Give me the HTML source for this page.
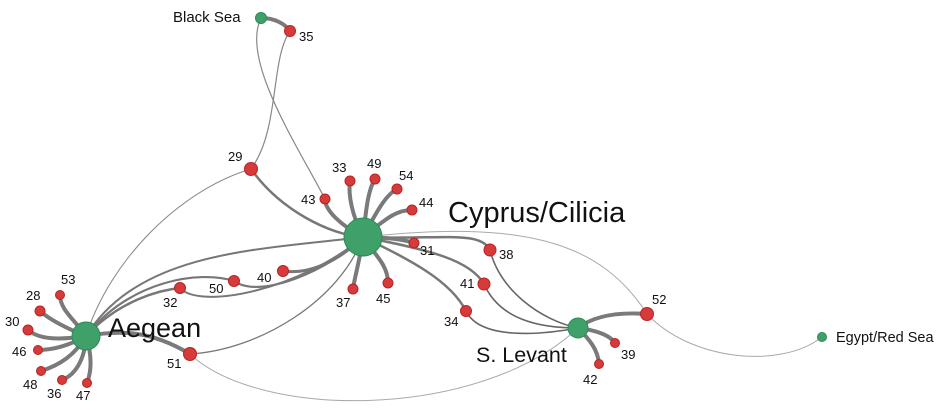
<!DOCTYPE html>
<html><head><meta charset="utf-8"><style>
html,body{margin:0;padding:0;background:#fff;}
svg{display:block;font-family:"Liberation Sans",sans-serif;}
</style></head><body>
<svg width="939" height="411" viewBox="0 0 939 411">
<g fill="none" stroke-linecap="round">
<path d="M363,237 C520,220 600,240 647,314" stroke="#aaa" stroke-width="1"/>
<path d="M647,314 C690,360 780,370 822,337" stroke="#aaa" stroke-width="1"/>
<path d="M190,354 C260,420 480,420 578,328" stroke="#aaa" stroke-width="1"/>
<path d="M261,18 C240,60 300,150 325,199" stroke="#888" stroke-width="1.2"/>
<path d="M290,31 C270,60 280,130 251,169" stroke="#888" stroke-width="1.2"/>
<path d="M251,169 C180,190 110,260 86,336" stroke="#888" stroke-width="1"/>
<path d="M190,354 C260,350 340,300 363,237" stroke="#777" stroke-width="1.3"/>
<path d="M490,250 C500,290 540,320 578,328" stroke="#666" stroke-width="1.6"/>
<path d="M484,284 C500,320 540,328 578,328" stroke="#666" stroke-width="1.6"/>
<path d="M466,311 C480,340 540,335 578,328" stroke="#666" stroke-width="1.6"/>
<path d="M86,336 C140,250 260,250 363,237" stroke="#777" stroke-width="2"/>
<path d="M86,336 C120,300 160,290 180,288" stroke="#777" stroke-width="2.5"/>
<path d="M180,288 C200,310 300,290 363,237" stroke="#777" stroke-width="2"/>
<path d="M86,336 C130,280 200,270 234,281" stroke="#777" stroke-width="2.2"/>
<path d="M234,281 C260,300 330,270 363,237" stroke="#777" stroke-width="2.2"/>
<path d="M283,271 C310,275 340,260 363,237" stroke="#777" stroke-width="3"/>
<path d="M251,169 C280,210 330,235 363,237" stroke="#777" stroke-width="2.5"/>
<path d="M363,237 C440,240 480,230 490,250" stroke="#777" stroke-width="2.5"/>
<path d="M363,237 C430,250 470,260 484,284" stroke="#777" stroke-width="2.5"/>
<path d="M363,237 C410,260 450,280 466,311" stroke="#777" stroke-width="2.5"/>
<g stroke="#7a7a7a" stroke-width="4">
<path d="M363,237 C340,225 325,210 325,199"/>
<path d="M363,237 C352,215 348,195 350,181"/>
<path d="M363,237 C366,210 368,190 375,179"/>
<path d="M363,237 C375,215 385,195 397,189"/>
<path d="M363,237 C385,220 395,210 412,210"/>
<path d="M363,237 C395,238 405,240 414,243"/>
<path d="M363,237 C360,260 355,275 353,289"/>
<path d="M363,237 C375,255 388,265 388,283"/>
<path d="M261,18 C275,18 285,24 290,31"/>
<path d="M578,328 C595,315 620,312 647,314"/>
<path d="M578,328 C595,330 610,335 615,343"/>
<path d="M578,328 C590,340 598,350 599,364"/>
<path d="M86,336 C120,330 150,330 190,354"/>
<path d="M86,336 C75,320 60,310 60,295"/>
<path d="M86,336 C70,330 50,320 40,311"/>
<path d="M86,336 C60,340 40,340 28,330"/>
<path d="M86,336 C70,345 55,350 38,350"/>
<path d="M86,336 C75,355 60,365 41,371"/>
<path d="M86,336 C85,360 75,375 62,380"/>
<path d="M86,336 C92,355 92,370 87,383"/>
</g>
</g>
<g stroke="#b22" stroke-width="1" fill="#d63b3b">
<circle cx="290" cy="31" r="5.5"/><circle cx="251" cy="169" r="6.5"/>
<circle cx="325" cy="199" r="5"/><circle cx="350" cy="181" r="5"/><circle cx="375" cy="179" r="5"/>
<circle cx="397" cy="189" r="5"/><circle cx="412" cy="210" r="5"/><circle cx="414" cy="243" r="5"/>
<circle cx="490" cy="250" r="6"/><circle cx="484" cy="284" r="6"/><circle cx="466" cy="311" r="5.5"/>
<circle cx="353" cy="289" r="5"/><circle cx="388" cy="283" r="5"/>
<circle cx="283" cy="271" r="5.5"/><circle cx="234" cy="281" r="5.5"/><circle cx="180" cy="288" r="5.5"/>
<circle cx="190" cy="354" r="6.5"/><circle cx="647" cy="314" r="6.5"/><circle cx="615" cy="343" r="4.5"/><circle cx="599" cy="364" r="4.5"/>
<circle cx="60" cy="295" r="4.5"/><circle cx="40" cy="311" r="5"/><circle cx="28" cy="330" r="5"/>
<circle cx="38" cy="350" r="4.5"/><circle cx="41" cy="371" r="4.5"/><circle cx="62" cy="380" r="4.5"/><circle cx="87" cy="383" r="4.5"/>
</g>
<g stroke="#2d8a55" stroke-width="1" fill="#3fa06a">
<circle cx="363" cy="237" r="19"/><circle cx="86" cy="336" r="14"/><circle cx="578" cy="328" r="10"/>
<circle cx="261" cy="18" r="5.5"/><circle cx="822" cy="337" r="4.5"/>
</g>
<g fill="#111" font-size="13">
<text x="299" y="41">35</text><text x="228" y="161">29</text>
<text x="301" y="204">43</text><text x="332" y="172">33</text><text x="367" y="168">49</text><text x="399" y="180">54</text><text x="419" y="207">44</text>
<text x="420" y="255">31</text><text x="499" y="259">38</text><text x="460" y="288">41</text><text x="444" y="326">34</text>
<text x="336" y="307">37</text><text x="376" y="303">45</text>
<text x="257" y="282">40</text><text x="209" y="293">50</text><text x="163" y="307">32</text><text x="167" y="368">51</text>
<text x="652" y="304">52</text><text x="621" y="359">39</text><text x="583" y="384">42</text>
<text x="61" y="284">53</text><text x="26" y="300">28</text><text x="5" y="326">30</text><text x="12" y="356">46</text>
<text x="23" y="389">48</text><text x="47" y="398">36</text><text x="76" y="400">47</text>
</g>
<g fill="#111">
<text x="173" y="22" font-size="15">Black Sea</text>
<text x="448" y="222" font-size="29">Cyprus/Cilicia</text>
<text x="108" y="337" font-size="27">Aegean</text>
<text x="476" y="362" font-size="21.5">S. Levant</text>
<text x="836" y="342" font-size="14.5">Egypt/Red Sea</text>
</g>
</svg>
</body></html>
